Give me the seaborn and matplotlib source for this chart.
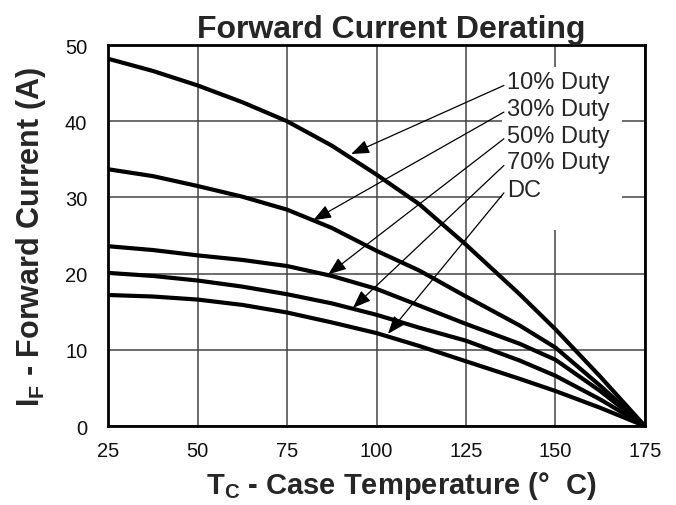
import matplotlib
matplotlib.use("Agg")
import matplotlib.pyplot as plt
import numpy as np
import pandas as pd
import seaborn as sns

# case temperature (°C) and forward current (A)
temps = [25, 37.5, 50, 62.5, 75, 87.5, 100, 112, 125, 140, 150, 162.5, 175]
duty10 = [48.2, 46.6, 44.7, 42.5, 40.0, 36.8, 33.0, 29.1, 23.8, 17.3, 12.7, 6.5, 0]
duty30 = [33.7, 32.8, 31.5, 30.1, 28.4, 26.0, 23.0, 20.4, 17.0, 13.2, 10.3, 5.3, 0]
duty50 = [23.6, 23.1, 22.4, 21.8, 21.0, 19.7, 18.0, 15.8, 13.4, 10.8, 8.7, 4.6, 0]
duty70 = [20.1, 19.7, 19.1, 18.3, 17.3, 16.1, 14.6, 12.9, 11.2, 8.6, 6.6, 3.5, 0]
dc = [17.2, 17.0, 16.6, 15.9, 14.9, 13.6, 12.2, 10.5, 8.5, 6.2, 4.6, 2.4, 0]

series = ["10% Duty", "30% Duty", "50% Duty", "70% Duty", "DC"]
values = [duty10, duty30, duty50, duty70, dc]

# arrow heads (on the curves) and label centres, data coords
head_x = [92.9, 82.3, 86.5, 93.4, 103.2]
head_y = [35.7, 27.0, 19.9, 15.5, 12.1]
label_y = [45.1, 41.6, 38.1, 34.6, 31.0]

xticks = [25, 50, 75, 100, 125, 150, 175]
yticks = [0, 10, 20, 30, 40, 50]

df = pd.DataFrame({
    "temp": temps * len(series),
    "current": sum(values, []),
    "curve": np.repeat(series, len(temps)),
})

sns.set_style("white")
plt.rcParams["font.family"] = ["Liberation Sans", "DejaVu Sans"]
plt.rcParams["mathtext.fontset"] = "custom"
plt.rcParams["mathtext.rm"] = "Liberation Sans"
plt.rcParams["mathtext.bf"] = "Liberation Sans:bold"

fig = plt.figure(figsize=(6.76, 5.06), dpi=100)
ax = fig.add_axes([0.16, 0.156, 0.794, 0.753])

sns.lineplot(data=df, x="temp", y="current", hue="curve",
             palette=["black"] * len(series), linewidth=3.0,
             legend=False, sort=False, ax=ax, zorder=3)

ax.set_xlim(25, 175)
ax.set_ylim(0, 50)
ax.set_xticks(xticks)
ax.set_yticks(yticks)
ax.grid(True, color="#444444", linewidth=1.1)
ax.tick_params(length=0, labelsize=14.5, colors="#111111")
ax.tick_params(axis="x", pad=11)
ax.tick_params(axis="y", pad=15)
for s in ax.spines.values():
    s.set_linewidth(2)
    s.set_color("black")

# white block behind the labels, hiding the grid there
ax.fill_between([135.1, 168.6], 25.7, 47.1, color="white", zorder=2.5,
                linewidth=0)

for name, hx, hy, ly in zip(series, head_x, head_y, label_y):
    ax.annotate("", xy=(hx, hy), xytext=(135.6, ly - 0.4),
                arrowprops=dict(arrowstyle="-|>,head_length=1.1,head_width=0.42",
                                color="black", lw=0.9, shrinkA=0, shrinkB=0),
                zorder=4)
    ax.text(136.6, ly, name, fontsize=17, va="center", ha="left", zorder=5)

ax.set_xlabel(r"$\mathbf{T_C}$ - Case Temperature (°  C)", fontsize=21,
              fontweight="bold", labelpad=6)
ax.xaxis.label.set_x(0.547)
ax.set_ylabel(r"$\mathbf{I_F}$ - Forward Current (A)", fontsize=22,
              fontweight="bold", labelpad=12)
ax.set_title("Forward Current Derating", fontsize=23, fontweight="bold",
             pad=6, x=0.527)

fig.savefig("out.png", dpi=100)
